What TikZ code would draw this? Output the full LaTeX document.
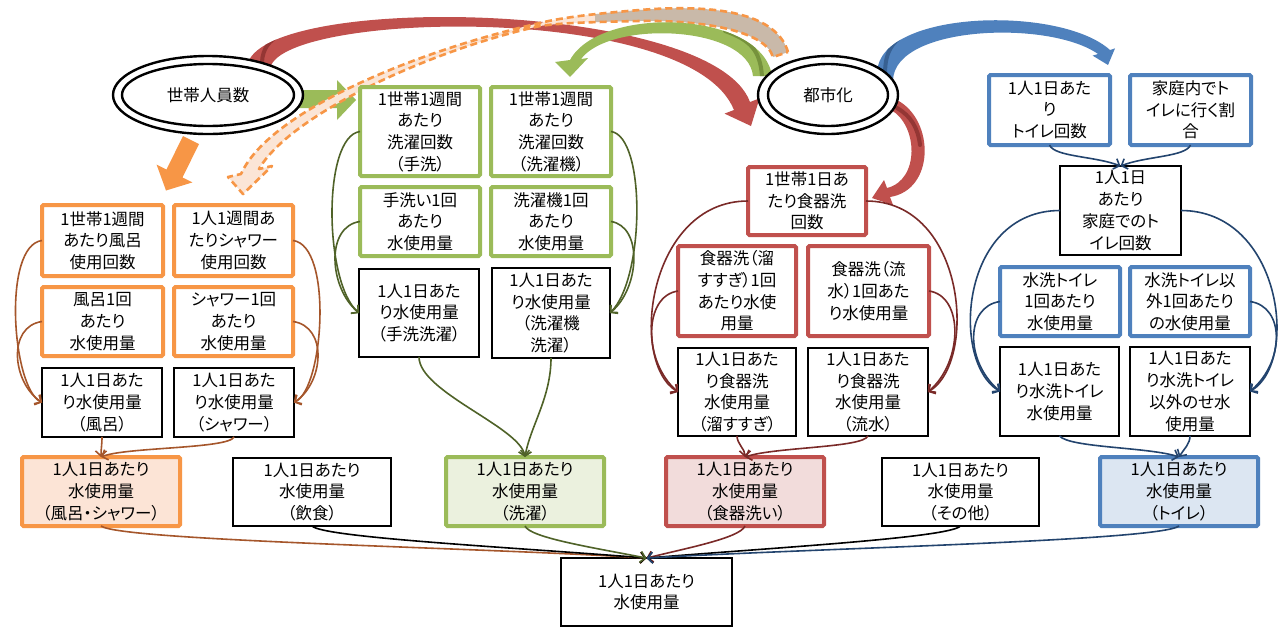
\documentclass[tikz,border=0pt]{standalone}
\usepackage{fontspec}
\setmainfont{Noto Sans CJK JP}[RawFeature={+palt}]
\usetikzlibrary{arrows.meta,shapes.geometric}
\definecolor{orA}{HTML}{F79646}
\definecolor{grA}{HTML}{9BBB59}
\definecolor{rdA}{HTML}{C0504D}
\definecolor{blA}{HTML}{4F81BD}
\definecolor{grD}{HTML}{76923C}
\definecolor{rdD}{HTML}{943634}
\definecolor{blD}{HTML}{376092}
\definecolor{orL}{HTML}{A5562B}
\definecolor{grL}{HTML}{4F6228}
\definecolor{rdL}{HTML}{7A2A28}
\definecolor{blL}{HTML}{23446E}
\definecolor{orF}{HTML}{FCE4D6}
\definecolor{grF}{HTML}{EBF1DE}
\definecolor{rdF}{HTML}{F2DCDB}
\definecolor{blF}{HTML}{DCE6F2}
\definecolor{dashF}{HTML}{FBE5D6}
\definecolor{dashG}{HTML}{C9B9A9}
\begin{document}
\begin{tikzpicture}[x=1pt,y=-1pt,
  every node/.style={font=\fontsize{16.5pt}{21.7pt}\selectfont, align=center, inner sep=0pt, outer sep=0pt},
  sz/.style 2 args={minimum width=#1pt, minimum height=#2pt},
  cbox/.style={draw=#1, line width=4pt, rounded corners=1.5pt, fill=white},
  fbox/.style 2 args={draw=#1, line width=4pt, rounded corners=1.5pt, fill=#2},
  kbox/.style={draw=black, line width=2.2pt, fill=white},
  ell/.style={draw=black, ellipse, line width=2.4pt, fill=white},
  conn/.style={draw=#1, line width=1.6pt, -{Straight Barb[length=5pt,width=11pt]}},
  shade/.style={draw=#1, line width=4pt, line cap=round},
]
\fill[white] (0,0) rectangle (1287,630);
\useasboundingbox (0,0) rectangle (1287,630);

% ---------- big block arrows ----------
% red: household size -> dish-washing group
\def\rdpath{(247,70) .. controls (242,-8) and (712,-2) .. (750,102) -- (759.5,98.4) -- (751,126) -- (724.5,113.6) -- (734,110) .. controls (690,0) and (272,12) .. (270,70) -- cycle}
\fill[rdA] \rdpath;
\begin{scope}\clip \rdpath; \draw[shade=rdD] (262,66) .. controls (261,40) and (280,28) .. (330,22); \end{scope}
% green short: household size -> laundry
\fill[grA] (295,90) -- (337,90) -- (337,80) -- (356,100) -- (337,120) -- (337,108) -- (295,108) -- cycle;
% orange straight: household size -> bath/shower
\fill[orA] (199,144) -- (182.5,177.5) -- (192.4,182.4) -- (166,190.5) -- (156.6,164.6) -- (166.5,169.5) -- (183,136) -- cycle;
% orange dashed: urbanisation -> shower
\def\orpath{(788,52) .. controls (775,8) and (700,5) .. (640,10) .. controls (590,14) and (560,18) .. (540,23) .. controls (420,50) and (270,110) .. (241,174) -- (228,177) -- (243,194) -- (272,166) -- (259,169) .. controls (290,115) and (430,50) .. (540,26) .. controls (560,23) and (590,22) .. (640,21) .. controls (700,20) and (765,30) .. (773,57) -- cycle}
\fill[dashF] \orpath;
\begin{scope}
\clip (595,0) rectangle (800,80);
\fill[dashG] \orpath;
\end{scope}
\draw[orA, line width=2.6pt, dash pattern=on 7pt off 4pt, line join=round] \orpath;
% green curved: urbanisation -> washing machine
\def\grpath{(772,76) .. controls (762,10) and (600,5) .. (570,60) -- (555,62) -- (570,77) -- (588,58) -- (581,59) .. controls (610,20) and (748,25) .. (753,76) -- cycle}
\fill[grA] \grpath;
\begin{scope}\clip \grpath; \draw[shade=grD] (762,76) .. controls (760,50) and (750,40) .. (725,31); \end{scope}
% red curved: urbanisation -> dish-washing count
\def\rcpath{(897,100) .. controls (935,120) and (935,190) .. (890,197) -- (893,205) -- (872,198) -- (884,180) -- (887,188) .. controls (920,180) and (918,125) .. (891,110) -- cycle}
\fill[rdA] \rcpath;
\begin{scope}\clip \rcpath; \draw[shade=rdD] (897,108) .. controls (911,116) and (918,128) .. (920,145); \end{scope}
% blue curved: urbanisation -> toilet
\def\blpath{(877,72) .. controls (880,10) and (1060,5) .. (1110,50) -- (1115,48.4) -- (1108,65) -- (1092.6,55.6) -- (1098,54) .. controls (1050,20) and (895,25) .. (893,80) -- cycle}
\fill[blA] \blpath;
\begin{scope}\clip \blpath; \draw[shade=blD] (885,74) .. controls (885,52) and (892,40) .. (912,30); \end{scope}

% ---------- ellipses ----------
\node[ell, sz={190}{78}] (E1) at (208,95) {};
\draw[line width=2.4pt] (208,95) ellipse [x radius=86pt, y radius=31pt];
\node (E1t) at (208,95) {世帯人員数};
\node[ell, sz={140}{78}] (E2) at (828,95) {};
\draw[line width=2.4pt] (828,95) ellipse [x radius=60pt, y radius=31pt];
\node (E2t) at (828,95) {都市化};

% ---------- bath / shower ----------
\node[cbox=orA, sz={121}{71}] (O1) at (102.5,240.5) {1世帯1週間\\あたり風呂\\使用回数};
\node[cbox=orA, sz={119}{71}] (O2) at (233.5,240.5) {1人1週間あ\\たりシャワー\\使用回数};
\node[cbox=orA, sz={121}{69}] (O3) at (102.5,321.5) {風呂1回\\あたり\\水使用量};
\node[cbox=orA, sz={119}{69}] (O4) at (233.5,321.5) {シャワー1回\\あたり\\水使用量};
\node[kbox, sz={119.8}{68.8}] (K1) at (102,402.5) {1人1日あた\\り水使用量\\（風呂）};
\node[kbox, sz={119.8}{68.8}] (K2) at (234,402.5) {1人1日あた\\り水使用量\\（シャワー）};

% ---------- laundry ----------
\node[cbox=grA, sz={120}{89}] (G1) at (420,131.5) {1世帯1週間\\あたり\\洗濯回数\\（手洗）};
\node[cbox=grA, sz={120}{89}] (G2) at (551,131.5) {1世帯1週間\\あたり\\洗濯回数\\（洗濯機）};
\node[cbox=grA, sz={120}{69}] (G3) at (420,221.5) {手洗い1回\\あたり\\水使用量};
\node[cbox=grA, sz={120}{69}] (G4) at (551,221.5) {洗濯機1回\\あたり\\水使用量};
\node[kbox, sz={119.8}{87.8}] (K3) at (419,313) {1人1日あた\\り水使用量\\（手洗洗濯）};
\node[kbox, sz={117.8}{89.8}] (K4) at (551,313) {1人1日あた\\り水使用量\\（洗濯機\\洗濯）};

% ---------- dish washing ----------
\node[cbox=rdA, sz={118}{68}] (R1) at (807,201) {1世帯1日あ\\たり食器洗\\回数};
\node[cbox=rdA, sz={118}{90}] (R2) at (737,291) {食器洗（溜\\すすぎ）1回\\あたり水使\\用量};
\node[cbox=rdA, sz={121}{90}] (R3) at (868.5,291) {食器洗（流\\水）1回あた\\り水使用量};
\node[kbox, sz={117.8}{87.8}] (K5) at (737,392) {1人1日あた\\り食器洗\\水使用量\\（溜すすぎ）};
\node[kbox, sz={119.8}{87.8}] (K6) at (868,392) {1人1日あた\\り食器洗\\水使用量\\（流水）};

% ---------- toilet ----------
\node[cbox=blA, sz={121}{70}] (B1) at (1049.5,110) {1人1日あた\\り\\トイレ回数};
\node[cbox=blA, sz={121}{70}] (B2) at (1190.5,110) {家庭内でト\\イレに行く割\\合};
\node[kbox, sz={120.8}{88.8}] (K7) at (1120.5,210.5) {1人1日\\あたり\\家庭でのト\\イレ回数};
\node[cbox=blA, sz={120}{69}] (B3) at (1060,301.5) {水洗トイレ\\1回あたり\\水使用量};
\node[cbox=blA, sz={120}{69}] (B4) at (1190,301.5) {水洗トイレ以\\外1回あたり\\の水使用量};
\node[kbox, sz={118.8}{88.8}] (K8) at (1059.5,391.5) {1人1日あた\\り水洗トイレ\\水使用量};
\node[kbox, sz={119.8}{88.8}] (K9) at (1190,391.5) {1人1日あた\\り水洗トイレ\\以外のせ水\\使用量};

% ---------- summary row ----------
\node[fbox={orA}{orF}, sz={158}{69}] (S1) at (101,491.5) {1人1日あたり\\水使用量\\（風呂・シャワー）};
\node[kbox, sz={157.8}{67.8}] (S2) at (312,492) {1人1日あたり\\水使用量\\（飲食）};
\node[fbox={grA}{grF}, sz={158}{69}] (S3) at (525,491.5) {1人1日あたり\\水使用量\\（洗濯）};
\node[fbox={rdA}{rdF}, sz={158}{69}] (S4) at (745,491.5) {1人1日あたり\\水使用量\\（食器洗い）};
\node[kbox, sz={156.8}{67.8}] (S5) at (960.5,492) {1人1日あたり\\水使用量\\（その他）};
\node[fbox={blA}{blF}, sz={158}{69}] (S6) at (1179,491.5) {1人1日あたり\\水使用量\\（トイレ）};
\node[kbox, sz={170.8}{67.8}] (T) at (646.5,592) {1人1日あたり\\水使用量};

% ---------- thin connectors ----------
\draw[conn=orL] (O1.west) .. controls +(-40,5) and +(-30,-15) .. (K1.west);
\draw[conn=orL] (O3.west) .. controls +(-35,5) and +(-30,-20) .. (K1.west);
\draw[conn=orL] (O2.east) .. controls +(40,5) and +(30,-15) .. (K2.east);
\draw[conn=orL] (O4.east) .. controls +(35,5) and +(30,-20) .. (K2.east);
\draw[conn=orL] (K1.south) .. controls +(0,8) and +(0,-8) .. (S1.north);
\draw[conn=orL] (K2.south) .. controls +(-5,12) and +(25,-10) .. (S1.north);

\draw[conn=grL] (G1.west) .. controls +(-38,5) and +(-35,-30) .. (K3.west);
\draw[conn=grL] (G3.west) .. controls +(-35,5) and +(-30,-25) .. (K3.west);
\draw[conn=grL] (G2.east) .. controls +(35,5) and +(35,-35) .. (K4.east);
\draw[conn=grL] (G4.east) .. controls +(32,5) and +(30,-25) .. (K4.east);
\draw[conn=grL] (K3.south) .. controls +(0,35) and +(-5,-30) .. (S3.north);
\draw[conn=grL] (K4.south) .. controls +(0,40) and +(5,-30) .. (S3.north);

\draw[conn=rdL] (R1.west) .. controls +(-100,0) and +(-50,-30) .. (K5.west);
\draw[conn=rdL] (R2.west) .. controls +(-35,5) and +(-35,-30) .. (K5.west);
\draw[conn=rdL] (R1.east) .. controls +(100,0) and +(50,-30) .. (K6.east);
\draw[conn=rdL] (R3.east) .. controls +(35,5) and +(35,-30) .. (K6.east);
\draw[conn=rdL] (K5.south) .. controls +(0,8) and +(0,-8) .. (S4.north);
\draw[conn=rdL] (K6.south) .. controls +(-5,12) and +(30,-10) .. (S4.north);

\draw[conn=blL] (B1.south) .. controls +(5,12) and +(-25,-10) .. (K7.north);
\draw[conn=blL] (B2.south) .. controls +(-5,12) and +(25,-10) .. (K7.north);
\draw[conn=blL] (K7.west) .. controls +(-100,0) and +(-50,-30) .. (K8.west);
\draw[conn=blL] (B3.west) .. controls +(-35,5) and +(-35,-30) .. (K8.west);
\draw[conn=blL] (K7.east) .. controls +(100,0) and +(50,-30) .. (K9.east);
\draw[conn=blL] (B4.east) .. controls +(35,5) and +(35,-30) .. (K9.east);
\draw[conn=blL] (K8.south) .. controls +(10,12) and +(-30,-10) .. (S6.north);
\draw[conn=blL] (K9.south) .. controls +(0,8) and +(5,-8) .. (S6.north);

\draw[conn=orL] (S1.south) .. controls +(20,15) and +(-150,-10) .. (T.north);
\draw[conn=black] (S2.south) .. controls +(10,12) and +(-120,-10) .. (T.north);
\draw[conn=grL] (S3.south) .. controls +(5,12) and +(-50,-10) .. (T.north);
\draw[conn=rdL] (S4.south) .. controls +(-5,12) and +(40,-10) .. (T.north);
\draw[conn=black] (S5.south) .. controls +(-10,12) and +(120,-10) .. (T.north);
\draw[conn=blL] (S6.south) .. controls +(-20,15) and +(170,-10) .. (T.north);
\end{tikzpicture}
\end{document}
